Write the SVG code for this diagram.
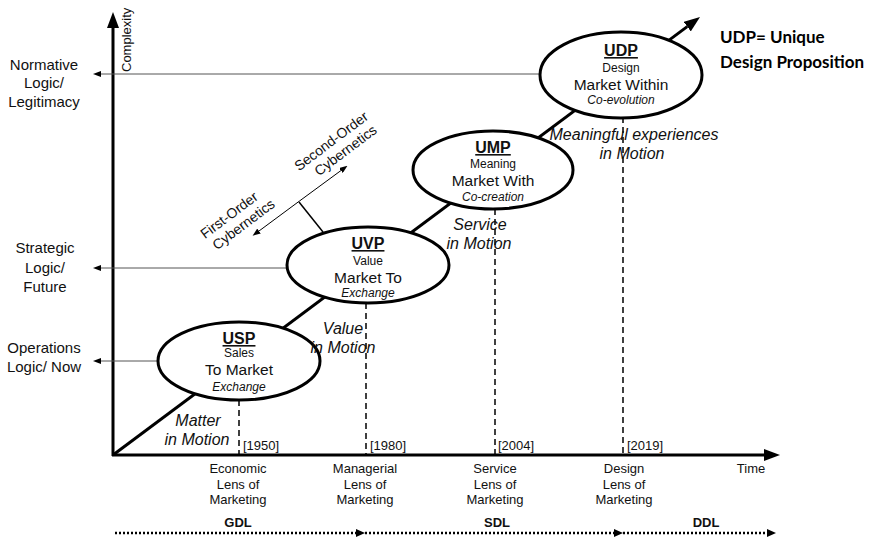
<svg xmlns="http://www.w3.org/2000/svg" width="880" height="539" viewBox="0 0 880 539">
<defs>
<style>
text{font-family:"Liberation Sans",Arial,sans-serif;fill:#111}
.lbl{font-size:15px;text-anchor:middle}
.ax{font-size:13px;text-anchor:middle}
.yr{font-size:13px;text-anchor:start}
.ttl{font-size:16px;font-weight:bold;text-anchor:middle;text-decoration:underline}
.sub{font-size:12px;text-anchor:middle}
.big{font-size:15.5px;text-anchor:middle}
.it{font-size:12px;font-style:italic;text-anchor:middle}
.mot{font-size:16px;font-style:italic;text-anchor:middle}
.cyb{font-size:14px;text-anchor:middle}
.era{font-size:13px;font-weight:bold;text-anchor:middle}
.note{font-family:Lato,"Open Sans",sans-serif;font-size:17px;font-weight:bold;fill:#000}
.node ellipse{fill:#fff;stroke:#000;stroke-width:3}
.thick{stroke:#000;stroke-width:3;fill:none}
.thin{stroke:#555;stroke-width:1;fill:none}
.dash{stroke:#000;stroke-width:1.5;stroke-dasharray:6 4;fill:none}
.dot{stroke:#000;stroke-width:2.5;stroke-dasharray:2 2;fill:none}
</style>
<marker id="bigHead" markerUnits="userSpaceOnUse" markerWidth="16" markerHeight="12" refX="0" refY="6" orient="auto" viewBox="0 0 16 12">
<path d="M0,0 L16,6 L0,12 Z" fill="#000"/>
</marker>
<marker id="smallHead" markerUnits="userSpaceOnUse" markerWidth="8" markerHeight="6" refX="0" refY="3" orient="auto" viewBox="0 0 8 6">
<path d="M0,0 L8,3 L0,6 Z" fill="#000"/>
</marker>
<marker id="dotHead" markerUnits="userSpaceOnUse" markerWidth="9" markerHeight="8" refX="0" refY="4" orient="auto" viewBox="0 0 9 8">
<path d="M0,0 L9,4 L0,8 Z" fill="#000"/>
</marker>
</defs>
<rect width="880" height="539" fill="#fff"/>

<!-- axes and growth line -->
<g id="connectors">
<line class="thick" x1="113" y1="456" x2="113" y2="28" marker-end="url(#bigHead)"/>
<line class="thick" x1="112" y1="455" x2="764" y2="455" marker-end="url(#bigHead)"/>
<line class="thick" x1="113" y1="455" x2="687.2" y2="26.6" marker-end="url(#bigHead)"/>

<!-- logic levels -->
<line class="thin" x1="545" y1="74" x2="101" y2="74" marker-end="url(#smallHead)"/>
<line class="thin" x1="290" y1="268" x2="101" y2="268" marker-end="url(#smallHead)"/>
<line class="thin" x1="160" y1="361" x2="101" y2="361" marker-end="url(#smallHead)"/>

<!-- cybernetics -->
<line x1="323" y1="232" x2="299" y2="202" stroke="#000" stroke-width="1.5"/>
<line x1="299.5" y1="201" x2="259" y2="231" stroke="#000" stroke-width="1" marker-end="url(#smallHead)"/>
<line x1="299.5" y1="201" x2="341" y2="170.5" stroke="#000" stroke-width="1" marker-end="url(#smallHead)"/>

<!-- era markers -->
<line class="dash" x1="239" y1="400" x2="239" y2="455"/>
<line class="dash" x1="366" y1="303" x2="366" y2="455"/>
<line class="dash" x1="495" y1="209" x2="495" y2="455"/>
<line class="dash" x1="623" y1="117" x2="623" y2="455"/>

<!-- dominant logics -->
<line class="dot" x1="115" y1="533" x2="356" y2="533" marker-end="url(#dotHead)"/>
<line class="dot" x1="365" y1="533" x2="614" y2="533" marker-end="url(#dotHead)"/>
<line class="dot" x1="623" y1="533" x2="767" y2="533" marker-end="url(#dotHead)"/>
</g>

<text class="yr" transform="translate(131,72) rotate(-90)">Complexity</text>

<g id="logic-normative">
<text class="lbl" x="44" y="70">Normative</text>
<text class="lbl" x="44" y="88">Logic/</text>
<text class="lbl" x="44" y="107">Legitimacy</text>
</g>
<g id="logic-strategic">
<text class="lbl" x="45" y="253">Strategic</text>
<text class="lbl" x="45" y="273">Logic/</text>
<text class="lbl" x="45" y="292">Future</text>
</g>
<g id="logic-operations">
<text class="lbl" x="44" y="353">Operations</text>
<text class="lbl" x="44" y="372">Logic/ Now</text>
</g>

<g id="cybernetics">
<g transform="translate(232,219) rotate(-37)">
<text class="cyb" x="0" y="0">First-Order</text>
<text class="cyb" x="6" y="16">Cybernetics</text>
</g>
<g transform="translate(334,145) rotate(-37)">
<text class="cyb" x="0" y="0">Second-Order</text>
<text class="cyb" x="6" y="16">Cybernetics</text>
</g>
</g>

<g id="usp" class="node">
<ellipse cx="239" cy="361" rx="81" ry="39"/>
<text class="ttl" x="239" y="344">USP</text>
<text class="sub" x="239" y="357">Sales</text>
<text class="big" x="239" y="375">To Market</text>
<text class="it" x="239" y="391">Exchange</text>
</g>
<g id="uvp" class="node">
<ellipse cx="368" cy="265" rx="81" ry="38"/>
<text class="ttl" x="368" y="249">UVP</text>
<text class="sub" x="368" y="265">Value</text>
<text class="big" x="368" y="283">Market To</text>
<text class="it" x="368" y="297">Exchange</text>
</g>
<g id="ump" class="node">
<ellipse cx="493" cy="170" rx="80" ry="39"/>
<text class="ttl" x="493" y="153">UMP</text>
<text class="sub" x="493" y="168">Meaning</text>
<text class="big" x="493" y="186">Market With</text>
<text class="it" x="493" y="201">Co-creation</text>
</g>
<g id="udp" class="node">
<ellipse cx="621" cy="75" rx="81" ry="43"/>
<text class="ttl" x="621" y="56">UDP</text>
<text class="sub" x="621" y="72">Design</text>
<text class="big" x="621" y="90">Market Within</text>
<text class="it" x="621" y="104">Co-evolution</text>
</g>

<g id="motion-labels">
<text class="mot" x="198" y="426">Matter</text>
<text class="mot" x="197" y="445">in Motion</text>
<text class="mot" x="343" y="334">Value</text>
<text class="mot" x="343" y="353">in Motion</text>
<text class="mot" x="480" y="230">Service</text>
<text class="mot" x="479" y="249">in Motion</text>
<text class="mot" x="634" y="140">Meaningful experiences</text>
<text class="mot" x="632" y="159">in Motion</text>
</g>

<g id="years">
<text class="yr" x="243" y="450">[1950]</text>
<text class="yr" x="370" y="450">[1980]</text>
<text class="yr" x="498" y="450">[2004]</text>
<text class="yr" x="627" y="450">[2019]</text>
</g>

<g id="lenses">
<text class="ax" x="238" y="473">Economic</text>
<text class="ax" x="238" y="489">Lens of</text>
<text class="ax" x="238" y="504">Marketing</text>
<text class="ax" x="365" y="473">Managerial</text>
<text class="ax" x="365" y="489">Lens of</text>
<text class="ax" x="365" y="504">Marketing</text>
<text class="ax" x="495" y="473">Service</text>
<text class="ax" x="495" y="489">Lens of</text>
<text class="ax" x="495" y="504">Marketing</text>
<text class="ax" x="624" y="473">Design</text>
<text class="ax" x="624" y="489">Lens of</text>
<text class="ax" x="624" y="504">Marketing</text>
<text class="ax" x="751" y="473">Time</text>
</g>

<g id="eras">
<text class="era" x="238" y="527">GDL</text>
<text class="era" x="497" y="527">SDL</text>
<text class="era" x="706" y="527">DDL</text>
</g>

<g id="udp-note">
<text class="note" x="720" y="43">UDP= Unique</text>
<text class="note" x="720" y="68">Design Proposition</text>
</g>
</svg>
